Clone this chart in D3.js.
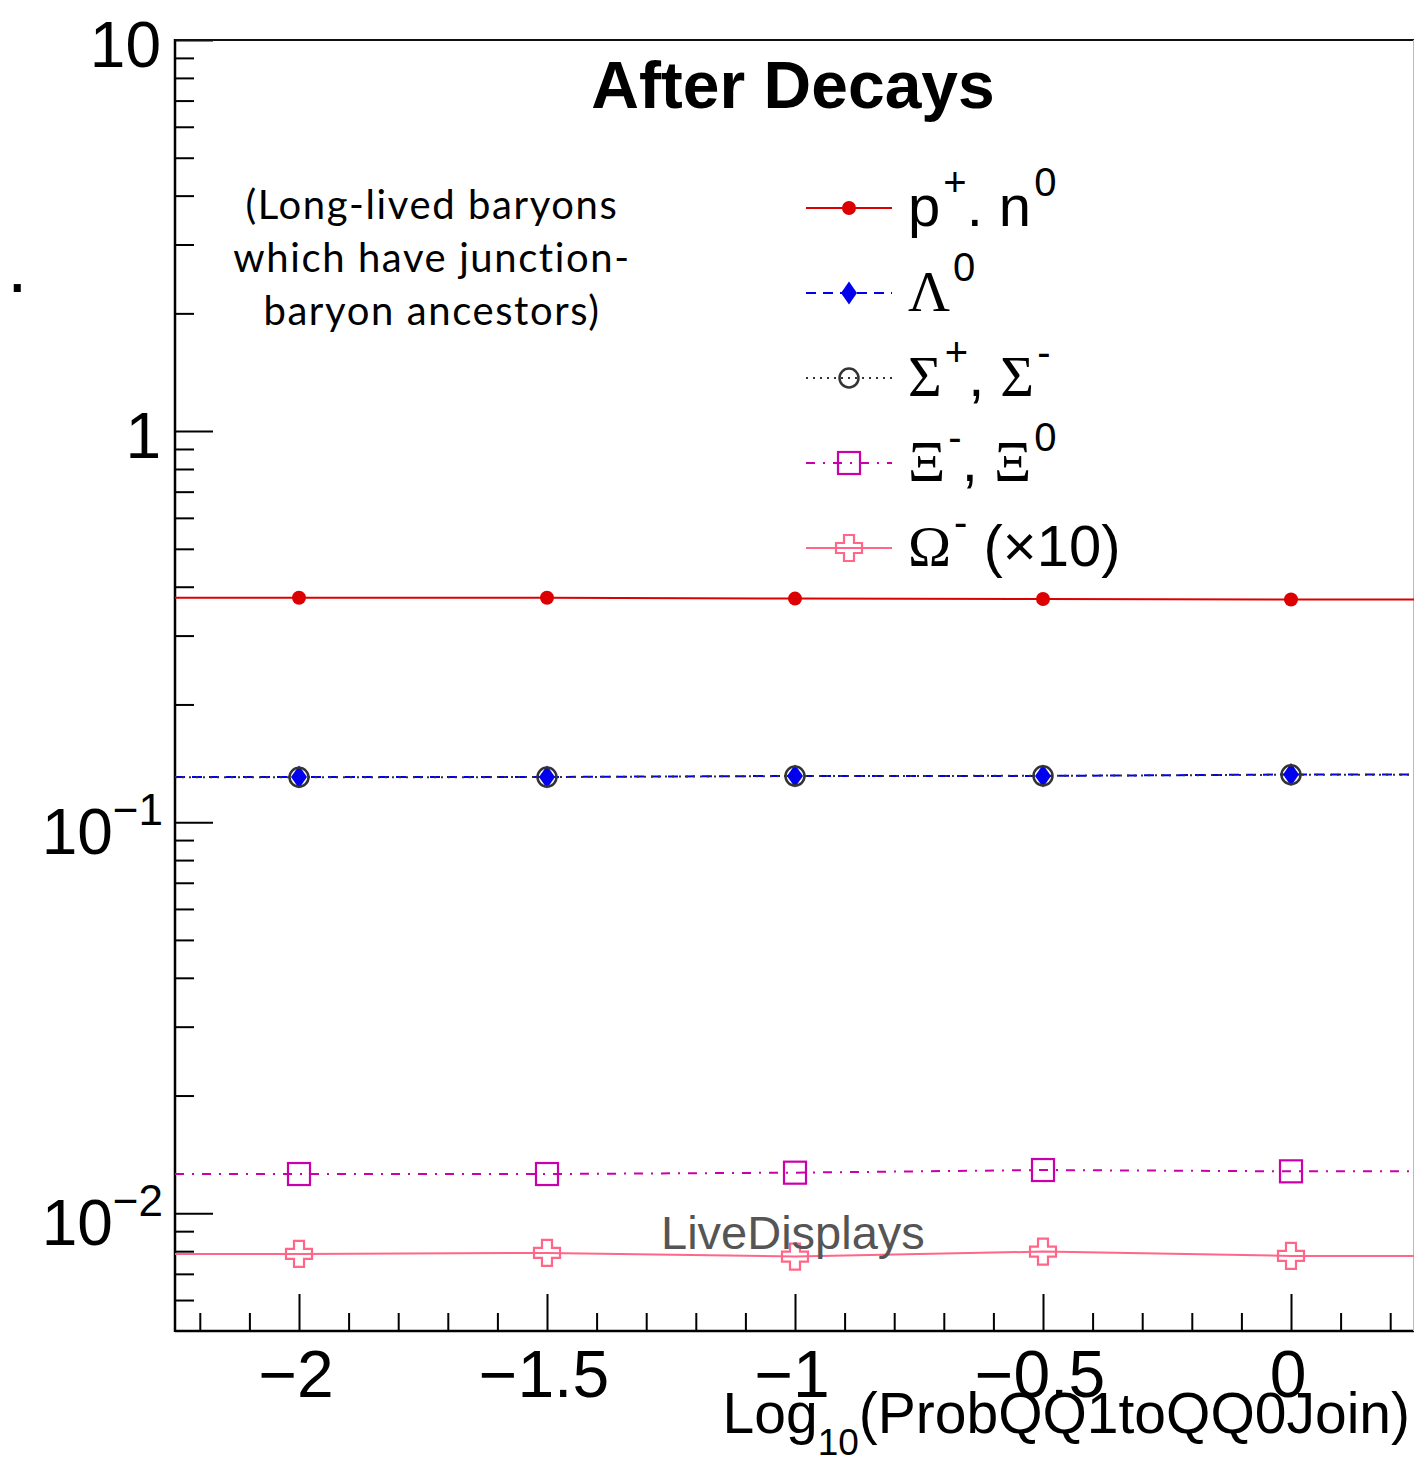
<!DOCTYPE html>
<html>
<head>
<meta charset="utf-8">
<script src="https://cdn.jsdelivr.net/npm/d3@7"></script>
<style>
  body { margin: 0; background: #fff; }
  svg { display: block; }
  text { white-space: pre; }
</style>
</head>
<body>
<svg id="chart" width="1414" height="1458"></svg>
<script>
// ---- data ----------------------------------------------------------
const xValues = [-2, -1.5, -1, -0.5, 0];
const protonNeutron = [0.375, 0.375, 0.373, 0.372, 0.371];
const lambda0 = [0.1305, 0.1305, 0.1313, 0.1313, 0.1324];
const sigmaPM = [0.1303, 0.1304, 0.1312, 0.1314, 0.1322];
const xiMinus0 = [0.0126, 0.0126, 0.0127, 0.0129, 0.0128];
const omegaMinus = [0.000787, 0.000792, 0.000775, 0.000798, 0.000778];
const omegaScale = 10;

const xMajorTicks = [-2, -1.5, -1, -0.5, 0];
const xTickLabels = ["\u22122", "\u22121.5", "\u22121", "\u22120.5", "0"];
const yMajorTicks = [0.01, 0.1, 1, 10];
const yTickLabels = [["10", "\u22122"], ["10", "\u22121"], ["1", null], ["10", null]];

// ---- layout --------------------------------------------------------
const svg = d3.select("#chart");
const plotL = 175, plotR = 1415, plotT = 40, plotB = 1331;
const sans = "'Liberation Sans', Arial, Helvetica, sans-serif";
const serif = "'Liberation Serif', 'Times New Roman', serif";

const x = d3.scaleLinear().domain([-2.25, 0.25]).range([plotL, plotR]);
const y = d3.scaleLog().domain([0.005, 10]).range([plotB, plotT]);

// minor tick values
const xMinorTicks = d3.range(-22, 3).map(i => i / 10).filter(v => !xMajorTicks.some(m => Math.abs(m - v) < 1e-9));
const yMinorTicks = [];
[0.001, 0.01, 0.1, 1].forEach(dec => {
  for (let k = 2; k <= 9; k++) {
    const v = +(k * dec).toPrecision(6);
    if (v > y.domain()[0] && v < y.domain()[1]) yMinorTicks.push(v);
  }
});

svg.append("defs").append("clipPath").attr("id", "plotClip")
  .append("rect").attr("x", plotL).attr("y", plotT)
  .attr("width", plotR - plotL).attr("height", plotB - plotT);

// ---- axes ----------------------------------------------------------
function styleAxis(g) {
  g.select(".domain").remove();
  g.selectAll(".tick line").attr("stroke", "#000").attr("stroke-width", 2);
  g.selectAll(".tick text").remove();
}
svg.append("g").attr("transform", `translate(${plotL},0)`)
  .call(d3.axisLeft(y).tickValues(yMajorTicks).tickSize(-38).tickFormat(""))
  .call(styleAxis);
svg.append("g").attr("transform", `translate(${plotL},0)`)
  .call(d3.axisLeft(y).tickValues(yMinorTicks).tickSize(-19).tickFormat(""))
  .call(styleAxis);
svg.append("g").attr("transform", `translate(0,${plotB})`)
  .call(d3.axisBottom(x).tickValues(xMajorTicks).tickSize(-37).tickFormat(""))
  .call(styleAxis);
svg.append("g").attr("transform", `translate(0,${plotB})`)
  .call(d3.axisBottom(x).tickValues(xMinorTicks).tickSize(-18).tickFormat(""))
  .call(styleAxis);

// frame
svg.append("line").attr("x1", plotL).attr("x2", plotL).attr("y1", plotT - 1).attr("y2", plotB + 1)
  .attr("stroke", "#000").attr("stroke-width", 2.5);
svg.append("line").attr("x1", plotL).attr("x2", plotR).attr("y1", plotB).attr("y2", plotB)
  .attr("stroke", "#000").attr("stroke-width", 2.5);
svg.append("line").attr("x1", plotL).attr("x2", plotR).attr("y1", plotT).attr("y2", plotT)
  .attr("stroke", "#111").attr("stroke-width", 2);
svg.append("line").attr("x1", 1413.5).attr("x2", 1413.5).attr("y1", plotT).attr("y2", plotB)
  .attr("stroke", "#bbb").attr("stroke-width", 1);

// y tick labels
yMajorTicks.forEach((v, i) => {
  const [base, exp] = yTickLabels[i];
  const t = svg.append("text")
    .attr("x", exp ? 163 : 161).attr("y", y(v) + (exp ? 32 : 27))
    .attr("text-anchor", "end")
    .attr("font-family", sans).attr("font-size", 64).attr("fill", "#000");
  t.append("tspan").text(base);
  if (exp) t.append("tspan").attr("font-size", 44).attr("dy", -29).text(exp);
});

// x tick labels
xMajorTicks.forEach((v, i) => {
  svg.append("text")
    .attr("x", x(v) - 3).attr("y", plotB + 66)
    .attr("text-anchor", "middle")
    .attr("font-family", sans).attr("font-size", 66).attr("fill", "#000")
    .text(xTickLabels[i]);
});

// x axis title
const xt = svg.append("text")
  .attr("x", 1410).attr("y", 1433)
  .attr("text-anchor", "end")
  .attr("font-family", sans).attr("font-size", 57).attr("fill", "#000");
xt.append("tspan").text("Log");
xt.append("tspan").attr("font-size", 37).attr("dy", 22).text("10");
xt.append("tspan").attr("dy", -22).text("(ProbQQ1toQQ0Join)");

// ---- series --------------------------------------------------------
const series = [
  { key: "pn", values: protonNeutron, color: "#dd0000", dash: null, marker: "dot" },
  { key: "lambda", values: lambda0, color: "#0000ee", dash: "10,7", marker: "diamond" },
  { key: "sigma", values: sigmaPM, color: "#333333", dash: "2,5", marker: "circle" },
  { key: "xi", values: xiMinus0, color: "#cc00aa", dash: "9,8,2,8", marker: "square" },
  { key: "omega", values: omegaMinus.map(v => v * omegaScale), color: "#ff6688", dash: null, marker: "cross" }
];

const line = d3.line().x(d => x(d[0])).y(d => y(d[1]));
const [xLo, xHi] = x.domain();

const linesG = svg.append("g").attr("clip-path", "url(#plotClip)");
series.forEach(s => {
  const pts = xValues.map((xv, i) => [xv, s.values[i]]);
  const full = [[xLo, s.values[0]], ...pts, [xHi, s.values[s.values.length - 1]]];
  linesG.append("path").datum(full)
    .attr("d", line)
    .attr("fill", "none")
    .attr("stroke", s.color)
    .attr("stroke-width", 2)
    .attr("stroke-dasharray", s.dash);
});

function drawMarker(g, type, cx, cy, color) {
  switch (type) {
    case "dot":
      g.append("circle").attr("cx", cx).attr("cy", cy).attr("r", 7).attr("fill", color);
      break;
    case "diamond":
      g.append("path")
        .attr("d", `M${cx},${cy - 11.5}L${cx + 8},${cy}L${cx},${cy + 11.5}L${cx - 8},${cy}Z`)
        .attr("fill", color);
      break;
    case "circle":
      g.append("circle").attr("cx", cx).attr("cy", cy).attr("r", 9.5)
        .attr("fill", "none").attr("stroke", color).attr("stroke-width", 2.5);
      break;
    case "square":
      g.append("rect").attr("x", cx - 11).attr("y", cy - 11).attr("width", 22).attr("height", 22)
        .attr("fill", "none").attr("stroke", color).attr("stroke-width", 2.2);
      break;
    case "cross": {
      const a = 5, b = 13;
      const d = `M${cx - a},${cy - b}H${cx + a}V${cy - a}H${cx + b}V${cy + a}H${cx + a}V${cy + b}` +
                `H${cx - a}V${cy + a}H${cx - b}V${cy - a}H${cx - a}Z`;
      g.append("path").attr("d", d).attr("fill", "none")
        .attr("stroke", color).attr("stroke-width", 2.2);
      break;
    }
  }
}

const markersG = svg.append("g");
series.forEach(s => {
  xValues.forEach((xv, i) => drawMarker(markersG, s.marker, x(xv), y(s.values[i]), s.color));
});

// ---- annotations ---------------------------------------------------
svg.append("text")
  .attr("x", 793).attr("y", 108)
  .attr("text-anchor", "middle")
  .attr("font-family", sans).attr("font-weight", "bold").attr("font-size", 66)
  .attr("fill", "#000")
  .text("After Decays");

const noteLines = ["(Long-lived baryons", "which have junction-", "baryon ancestors)"];
noteLines.forEach((l, i) => {
  svg.append("text")
    .attr("x", 432).attr("y", 219 + i * 53)
    .attr("text-anchor", "middle")
    .attr("font-family", "Lato, 'Open Sans', sans-serif").attr("font-size", 40)
    .attr("letter-spacing", 1.6)
    .attr("fill", "#000")
    .text(l);
});

svg.append("text")
  .attr("x", 661).attr("y", 1249)
  .attr("font-family", sans).attr("font-size", 47).attr("fill", "#555")
  .text("LiveDisplays");

svg.append("text")
  .attr("x", 7).attr("y", 292)
  .attr("font-family", sans).attr("font-size", 74).attr("fill", "#000")
  .text(".");

// ---- legend --------------------------------------------------------
const legendLabels = [
  [{ t: "p" }, { t: "+", sup: true }, { t: ". n" }, { t: "0", sup: true }],
  [{ t: "\u039B", greek: true }, { t: "0", sup: true }],
  [{ t: "\u03A3", greek: true }, { t: "+", sup: true }, { t: ", " }, { t: "\u03A3", greek: true }, { t: "-", sup: true }],
  [{ t: "\u039E", greek: true }, { t: "-", sup: true }, { t: ", " }, { t: "\u039E", greek: true }, { t: "0", sup: true }],
  [{ t: "\u03A9", greek: true }, { t: "-", sup: true }, { t: " (\u00D710)" }]
];
const legendTop = 208, legendStep = 85, legX0 = 806, legX1 = 892, legMark = 849, legText = 908;

series.forEach((s, i) => {
  const cy = legendTop + i * legendStep;
  const g = svg.append("g");
  g.append("line").attr("x1", legX0).attr("x2", legX1).attr("y1", cy).attr("y2", cy)
    .attr("stroke", s.color).attr("stroke-width", 2).attr("stroke-dasharray", s.dash);
  drawMarker(g, s.marker, legMark, cy, s.color);

  const t = g.append("text").attr("x", legText).attr("y", cy + 18)
    .attr("font-family", sans).attr("font-size", 58).attr("fill", "#000");
  let raised = false;
  legendLabels[i].forEach(p => {
    const ts = t.append("tspan").text(p.t);
    if (p.greek) ts.attr("font-family", serif).attr("font-size", 58);
    if (p.sup) {
      ts.attr("font-size", 40).attr("dx", 3);
      if (!raised) { ts.attr("dy", -30); raised = true; }
    } else if (raised) {
      ts.attr("dy", 30); raised = false;
    }
  });
});
</script>
</body>
</html>
